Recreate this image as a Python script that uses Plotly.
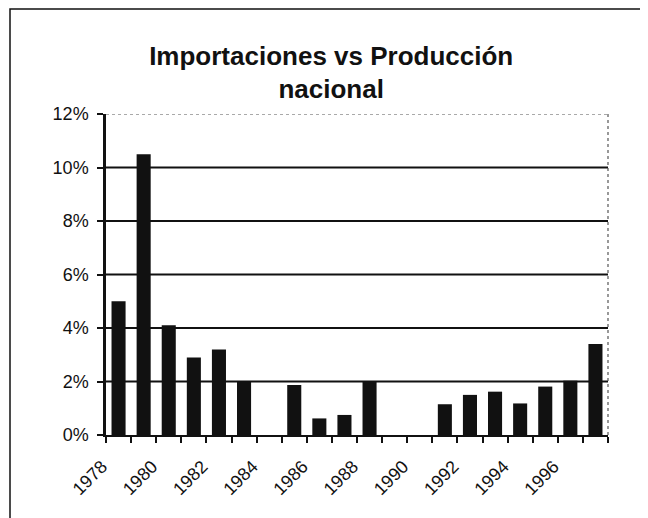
import plotly.graph_objects as go

years = list(range(1978, 1998))
values = [0.050, 0.105, 0.041, 0.029, 0.032, 0.020, None, 0.0187, 0.0062, 0.0075,
          0.020, None, None, 0.0115, 0.015, 0.0162, 0.0118, 0.0181, 0.0203, 0.034]
label_years = list(range(1978, 1997, 2))
y_ticks = [0, 0.02, 0.04, 0.06, 0.08, 0.10, 0.12]
solid_grid = [0.02, 0.04, 0.06, 0.08, 0.10]

W, H = 640, 510
L, R, T, B = 98, 40, 106, 83
pw, ph = W - L - R, H - T - B

fig = go.Figure()
fig.add_trace(go.Bar(x=years, y=values, marker=dict(color="#111111", line=dict(width=0)),
                     width=0.56))

shapes = []
for g in solid_grid:
    shapes.append(dict(type="line", xref="paper", yref="y", x0=0, x1=1, y0=g, y1=g,
                       line=dict(color="#111111", width=2.2), layer="below"))
shapes.append(dict(type="line", xref="paper", yref="y", x0=0, x1=1, y0=y_ticks[-1], y1=y_ticks[-1],
                   line=dict(color="#555555", width=1.2, dash="dot"), layer="below"))
shapes.append(dict(type="line", xref="paper", yref="paper", x0=1, x1=1, y0=0, y1=1,
                   line=dict(color="#555555", width=1.2, dash="dot"), layer="below"))
# outer frame
shapes.append(dict(type="rect", xref="paper", yref="paper",
                   x0=(2 - L) / pw, x1=(633 - L) / pw,
                   y0=(H - B - 530) / ph, y1=(H - B - 1) / ph,
                   line=dict(color="#111111", width=1.5), fillcolor="rgba(0,0,0,0)"))

fig.update_layout(
    width=W, height=H,
    margin=dict(l=L, r=R, t=T, b=B),
    paper_bgcolor="white", plot_bgcolor="white",
    showlegend=False,
    shapes=shapes,
    title=dict(text="<b>Importaciones vs Producción<br>nacional</b>",
               x=0.505, xanchor="center", y=0.889, yanchor="middle",
               font=dict(family="Liberation Sans, Arial", size=26, color="#111111")),
    font=dict(family="Liberation Sans, Arial", size=18, color="#111111"),
)
fig.update_xaxes(
    range=[1977.5, 1997.5],
    tickvals=[y - 0.5 for y in label_years], ticktext=[str(y) for y in label_years],
    tickangle=-45, ticks="", showgrid=False, zeroline=False,
    ticklabelstandoff=12, ticklabelshift=-4,
    showline=True, linecolor="#111111", linewidth=2,
    minor=dict(tickvals=[y - 0.5 for y in years] + [years[-1] + 0.5],
               ticks="outside", ticklen=6, tickcolor="#111111", tickwidth=2, showgrid=False),
    tickfont=dict(size=18),
)
fig.update_yaxes(
    range=[0, 0.12], tickvals=y_ticks, tickformat=".0%",
    ticks="outside", ticklen=6, tickcolor="#111111", tickwidth=2,
    ticklabelstandoff=5,
    showgrid=False, zeroline=False,
    showline=True, linecolor="#111111", linewidth=2.5,
    tickfont=dict(size=18),
)

fig.write_html("out.html")
